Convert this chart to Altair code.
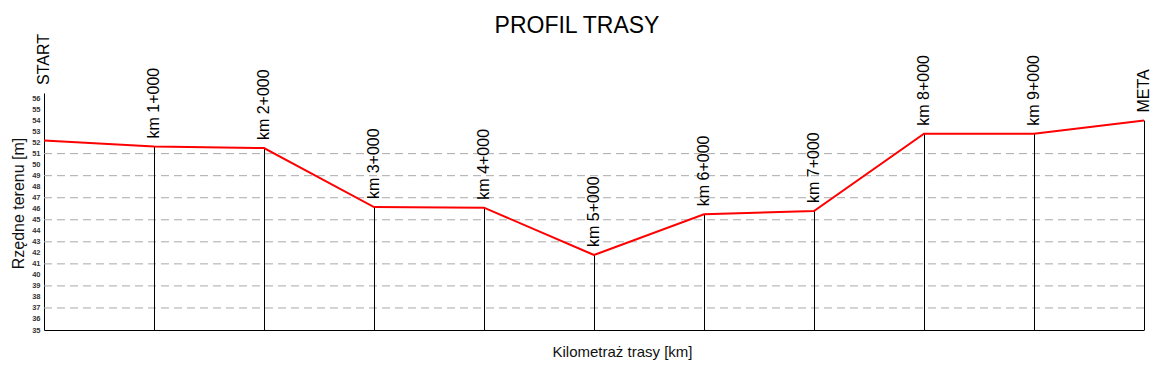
import altair as alt
import pandas as pd

km = [0, 1, 2, 3, 4, 5, 6, 7, 8, 9, 10]
elev = [52.2, 51.65, 51.5, 46.15, 46.1, 41.8, 45.5, 45.8, 52.8, 52.8, 54.0]
labels = ["START", "km 1+000", "km 2+000", "km 3+000", "km 4+000", "km 5+000",
          "km 6+000", "km 7+000", "km 8+000", "km 9+000", "META"]
y_ticks = list(range(35, 57))
grid_vals = [37, 39, 41, 43, 45, 47, 49, 51]

Y_MIN, Y_MAX = 35, 56.5
FONT = "Liberation Sans"

df = pd.DataFrame({"km": km, "elev": elev, "label": labels})
df["label_y"] = [Y_MAX] + elev[1:]
grid_df = pd.DataFrame({"g": grid_vals})

xs = alt.Scale(domain=[0, 10], nice=False, zero=False)
ys = alt.Scale(domain=[Y_MIN, Y_MAX], nice=False, zero=False)

x_axis = alt.Axis(labels=False, ticks=False, grid=False, domainColor="black",
                  title="Kilometraż trasy [km]", titleFont=FONT, titleFontSize=15,
                  titleFontWeight="normal", titleColor="#111", titleX=578, titleY=21,
                  titleBaseline="middle")
y_axis = alt.Axis(values=y_ticks, ticks=False, grid=False, domainColor="black",
                  labelFont=FONT, labelFontSize=7.5, labelColor="#333", labelPadding=4,
                  labelFontWeight="bold", labelOverlap=False, labelBound=False,
                  labelFlush=False,
                  title="Rzędne terenu [m]", titleFont=FONT, titleFontSize=16,
                  titleFontWeight="normal", titleColor="#111", titlePadding=5,
                  titleY=110, titleAlign="center")

base = alt.Chart(df)

grid = alt.Chart(grid_df).mark_rule(color="#aaaaaa", strokeDash=[8, 5], strokeWidth=1).encode(
    y=alt.Y("g:Q", scale=ys, axis=y_axis, title="Rzędne terenu [m]"),
    x=alt.value(0), x2=alt.value(1100)
)

verts = base.transform_filter("datum.km > 0").mark_rule(
    color="black", strokeWidth=1, xOffset=0.5).encode(
    x=alt.X("km:Q", scale=xs, axis=x_axis, title="Kilometraż trasy [km]"),
    y=alt.Y("elev:Q", scale=ys, axis=y_axis, title="Rzędne terenu [m]"),
    y2=alt.datum(Y_MIN)
)

line = base.mark_line(color="#ff0000", strokeWidth=2).encode(
    x=alt.X("km:Q", scale=xs, axis=x_axis, title="Kilometraż trasy [km]"),
    y=alt.Y("elev:Q", scale=ys, axis=y_axis, title="Rzędne terenu [m]")
)

text = base.mark_text(angle=270, align="left", baseline="middle", dx=8,
                      font=FONT, fontSize=16, color="black").encode(
    x=alt.X("km:Q", scale=xs, axis=x_axis, title="Kilometraż trasy [km]"),
    y=alt.Y("label_y:Q", scale=ys, axis=y_axis, title="Rzędne terenu [m]"),
    text="label:N"
)

chart = alt.layer(grid, verts, line, text).properties(
    width=1100, height=237,
    autosize="none",
    padding={"left": 36, "top": 85, "right": 17, "bottom": 31},
    title=alt.TitleParams("PROFIL TRASY", font=FONT, fontSize=23, fontWeight="normal",
                          color="black", anchor="middle", offset=-14, dy=8, dx=-17,
                          baseline="alphabetic")
).configure_view(stroke=None).configure_axis(labelOverlap=False)

chart.save("out.html", embed_options={"renderer": "svg", "actions": False})
